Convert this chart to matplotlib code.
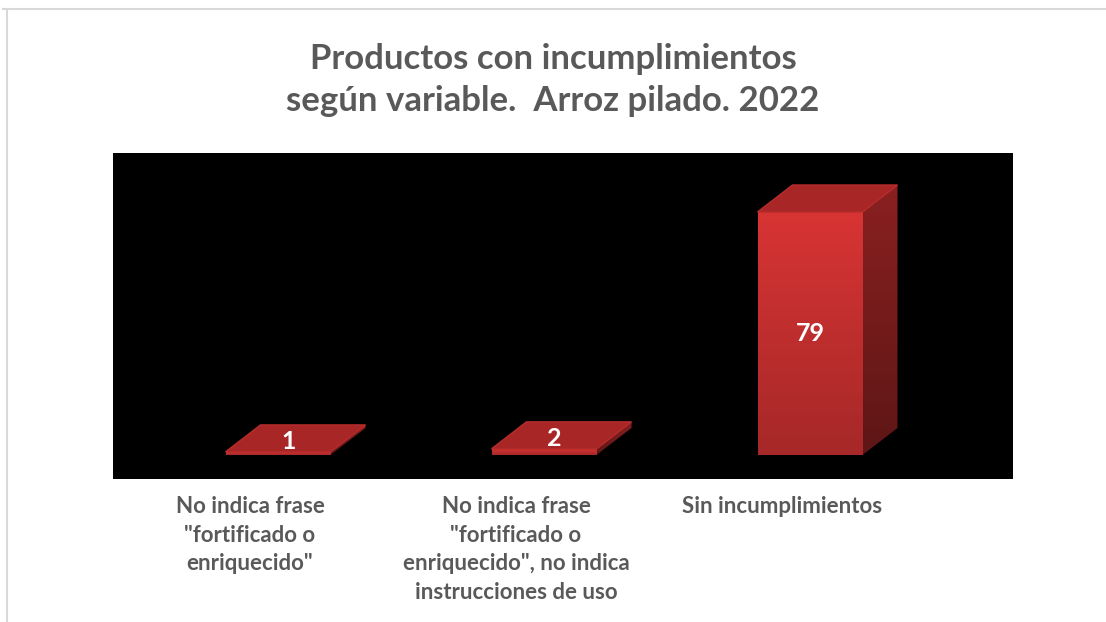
import numpy as np
import matplotlib
matplotlib.use("Agg")
import matplotlib.pyplot as plt
from matplotlib.patches import Polygon
from matplotlib.lines import Line2D

categories = [
    'No indica frase\n"fortificado o\nenriquecido"',
    'No indica frase\n"fortificado o\nenriquecido", no indica\ninstrucciones de uso',
    'Sin incumplimientos',
]
values = [1, 2, 79]
title = "Productos con incumplimientos\nsegún variable.  Arroz pilado. 2022"

W, H = 1106, 622
fig = plt.figure(figsize=(W / 100, H / 100), dpi=100)
fig.patch.set_facecolor("white")

# light gray chart border (top and left visible)
fig.add_artist(Line2D([3 / W, 1.0], [1 - 9 / H, 1 - 9 / H], color="#d9d9d9", lw=1.5))
fig.add_artist(Line2D([7 / W, 7 / W], [0, 1 - 9 / H], color="#d9d9d9", lw=1.5))

# black plot area
left, right, top, bottom = 113, 1013, 153, 479
ax = fig.add_axes([left / W, 1 - bottom / H, (right - left) / W, (bottom - top) / H])
ax.set_facecolor("black")
for s in ax.spines.values():
    s.set_visible(False)
ax.set_xticks([])
ax.set_yticks([])

px_x = 266.0          # pixels per category
px_y = 243.0 / 79     # pixels per unit value
x0 = -(278 - left) / px_x
y0 = -(bottom - 455) / px_y
ax.set_xlim(x0, x0 + (right - left) / px_x)
ax.set_ylim(y0, y0 + (bottom - top) / px_y)

bw = 105 / px_x       # front face width
ddx = 35 / px_x       # depth offset
ddy = 27 / px_y

grad = np.linspace(0, 1, 256).reshape(-1, 1)
front_cmap = matplotlib.colors.LinearSegmentedColormap.from_list("f", ["#a62828", "#d83434"])
side_cmap = matplotlib.colors.LinearSegmentedColormap.from_list("s", ["#5e1616", "#8a2020"])

for i, v in enumerate(values):
    xl, xr = i - bw / 2, i + bw / 2
    # front face with vertical gradient
    front = Polygon([(xl, 0), (xr, 0), (xr, v), (xl, v)], closed=True,
                    facecolor="none", edgecolor="none")
    ax.add_patch(front)
    im = ax.imshow(grad, cmap=front_cmap, aspect="auto", origin="lower",
                   extent=[xl, xr, 0, max(v, 0.5)], zorder=2)
    im.set_clip_path(front)
    # right side face
    side = Polygon([(xr, 0), (xr + ddx, ddy), (xr + ddx, v + ddy), (xr, v)],
                   closed=True, facecolor="none", edgecolor="none")
    ax.add_patch(side)
    im2 = ax.imshow(grad, cmap=side_cmap, aspect="auto", origin="lower",
                    extent=[xr, xr + ddx, 0, v + ddy], zorder=2)
    im2.set_clip_path(side)
    # top face
    ax.add_patch(Polygon([(xl, v), (xr, v), (xr + ddx, v + ddy), (xl + ddx, v + ddy)],
                         closed=True, facecolor="#a82626", edgecolor="#b82c2c",
                         lw=1, zorder=3))
    # value label
    if v < 10:
        lx, ly = i + 0.3 * ddx, v + 0.4 * ddy
    else:
        lx, ly = i, v / 2
    ax.text(lx, ly, str(v), color="white", fontsize=18, fontweight="bold",
            family="Lato", ha="center", va="center", zorder=4)

    # category label below the plot area
    ax.text(i - 28 / px_x, y0 - 17 / px_y, categories[i], color="#595959",
            fontsize=16, fontweight="bold", family="Lato", ha="center",
            va="top", linespacing=1.45)

fig.text(0.5, 1 - 80 / H, title, color="#595959", fontsize=25, fontweight="bold",
         family="Lato", ha="center", va="center", linespacing=1.35)

fig.savefig("out.png", dpi=100, facecolor="white")
